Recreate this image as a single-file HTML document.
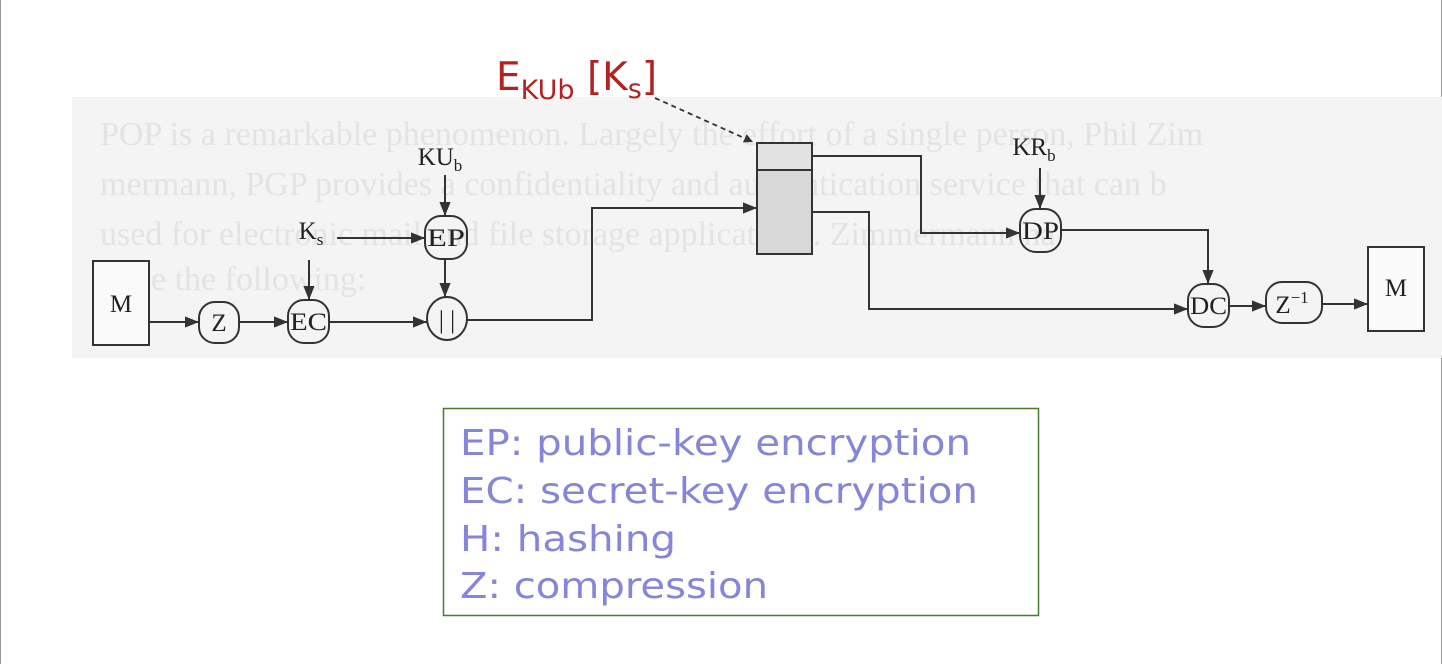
<!DOCTYPE html>
<html><head><meta charset="utf-8"><style>
html,body{margin:0;padding:0;background:#fff;width:1442px;height:664px;overflow:hidden}
svg{display:block}
</style></head><body>
<svg width="1442" height="664" viewBox="0 0 1442 664" xmlns="http://www.w3.org/2000/svg">
<defs>
<marker id="a" viewBox="0 0 10 10" refX="10" refY="5" markerWidth="9" markerHeight="9" markerUnits="userSpaceOnUse" orient="auto"><path d="M0,0 L10,5 L0,10 z" fill="#333"/></marker>
<marker id="b" viewBox="0 0 10 10" refX="10" refY="5" markerWidth="14" markerHeight="14" markerUnits="userSpaceOnUse" orient="auto"><path d="M0,1 L10,5 L0,9 z" fill="#333"/></marker>
</defs>
<line x1="0.5" y1="0" x2="0.5" y2="664" stroke="#999"/>
<line x1="1441.5" y1="0" x2="1441.5" y2="664" stroke="#999"/>
<rect x="72" y="97" width="1370" height="261" fill="#f4f4f4"/>
<g font-family="Liberation Serif, serif" fill="#ccc" opacity="0.4" font-size="34">
<text x="100" y="145">POP is a remarkable phenomenon. Largely the effort of a single person, Phil Zim</text>
<text x="100" y="195">mermann, PGP provides a confidentiality and authentication service that can b</text>
<text x="100" y="245">used for electronic mail and file storage applications. Zimmermann ha</text>
<text x="100" y="290">done the following:</text>
</g>
<g stroke="#333" stroke-width="2" fill="none">
<rect x="93" y="261" width="56" height="84" fill="#fafafa"/>
<rect x="1368" y="247" width="56" height="84" fill="#fafafa"/>
<rect x="199" y="302" width="40" height="41" rx="16"/>
<rect x="288" y="300" width="41" height="43" rx="16"/>
<ellipse cx="447" cy="318.5" rx="20" ry="21.5"/>
<rect x="425" y="216" width="42" height="43" rx="16"/>
<rect x="1020" y="209" width="41" height="43" rx="16"/>
<rect x="1188" y="284" width="41" height="43" rx="16"/>
<rect x="1266" y="282" width="56" height="41" rx="16"/>
<rect x="757" y="143" width="55" height="111" fill="#d8d8d8"/>
<rect x="757" y="143" width="55" height="27" fill="#e2e2e2"/>
<g marker-end="url(#b)">
<line x1="149" y1="322" x2="199" y2="322"/>
<line x1="239" y1="322" x2="288" y2="322"/>
<line x1="329" y1="322" x2="427" y2="322"/>
<polyline points="467,320 592,320 592,208 757,208"/>
<line x1="337" y1="238" x2="425" y2="238"/>
<line x1="309" y1="260" x2="309" y2="300"/>
<line x1="445" y1="175" x2="445" y2="216"/>
<line x1="445" y1="259" x2="445" y2="297"/>
<polyline points="812,156 921,156 921,233 1020,233"/>
<line x1="1040" y1="168" x2="1040" y2="209"/>
<polyline points="1061,230 1208,230 1208,284"/>
<polyline points="812,212 869,212 869,309 1188,309"/>
<line x1="1229" y1="306" x2="1266" y2="306"/>
<line x1="1322" y1="304" x2="1368" y2="304"/>
</g>
<line x1="655" y1="98" x2="753" y2="142" stroke-dasharray="5,4" stroke-width="1.8" marker-end="url(#a)"/>
</g>
<g font-family="Liberation Serif, serif" fill="#222" font-size="25" text-anchor="middle">
<text x="121" y="312">M</text>
<text x="1396" y="296">M</text>
<text x="219" y="331">Z</text>
<text x="308.5" y="330" textLength="37" lengthAdjust="spacingAndGlyphs">EC</text>
<text x="446" y="246" textLength="38" lengthAdjust="spacingAndGlyphs">EP</text>
<text x="1040.5" y="239" textLength="37" lengthAdjust="spacingAndGlyphs">DP</text>
<text x="1208.5" y="314" textLength="37" lengthAdjust="spacingAndGlyphs">DC</text>
<text x="1292" y="313">Z<tspan font-size="17" dy="-10">−1</tspan></text>
<text x="447" y="328">| |</text>
<text x="440" y="165">KU<tspan font-size="17" dy="6">b</tspan></text>
<text x="311" y="239">K<tspan font-size="17" dy="6">s</tspan></text>
<text x="1034" y="155">KR<tspan font-size="17" dy="6">b</tspan></text>
</g>
<text x="496" y="90" font-family="DejaVu Sans, Liberation Sans, sans-serif" font-size="39" fill="#b22222">E<tspan font-size="27" dy="9">KUb</tspan><tspan dy="-9"> [K</tspan><tspan font-size="27" dy="8">s</tspan><tspan dy="-8">]</tspan></text>
<rect x="443.5" y="408.5" width="595" height="207" fill="#fff" stroke="#4a7a32" stroke-width="1.5"/>
<g font-family="DejaVu Sans, Verdana, sans-serif" font-size="36" fill="#8585d9">
<text x="460" y="455" textLength="511" lengthAdjust="spacingAndGlyphs">EP: public-key encryption</text>
<text x="460" y="503" textLength="518" lengthAdjust="spacingAndGlyphs">EC: secret-key encryption</text>
<text x="460" y="551" textLength="216" lengthAdjust="spacingAndGlyphs">H: hashing</text>
<text x="460" y="598" textLength="308" lengthAdjust="spacingAndGlyphs">Z: compression</text>
</g>
</svg>
</body></html>
